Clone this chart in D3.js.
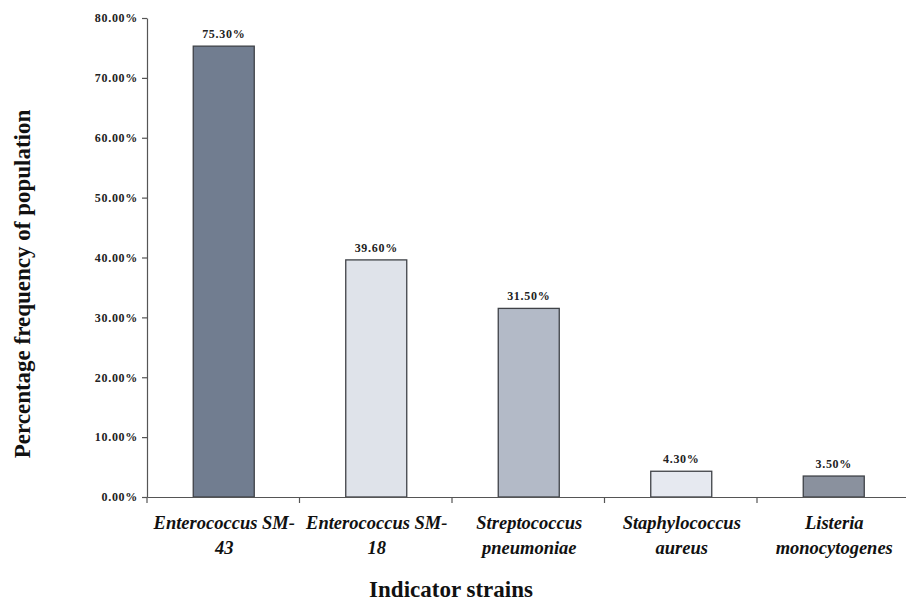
<!DOCTYPE html>
<html>
<head>
<meta charset="utf-8">
<script src="https://cdn.jsdelivr.net/npm/d3@7"></script>
<style>
  html, body { margin: 0; padding: 0; background: #ffffff; }
  svg { display: block; }
</style>
</head>
<body>
<svg id="chart" width="906" height="601"></svg>
<script>
// Data
const categories = ["Enterococcus SM-43", "Enterococcus SM-18", "Streptococcus pneumoniae", "Staphylococcus aureus", "Listeria monocytogenes"];
const categoryLines = [["Enterococcus SM-", "43"], ["Enterococcus SM-", "18"], ["Streptococcus", "pneumoniae"], ["Staphylococcus", "aureus"], ["Listeria", "monocytogenes"]];
const values = [75.3, 39.6, 31.5, 4.3, 3.5];
const valueLabels = ["75.30%", "39.60%", "31.50%", "4.30%", "3.50%"];
const yTicks = [0, 10, 20, 30, 40, 50, 60, 70, 80];
const barColors = ["#717d90", "#dfe3ea", "#b3bac7", "#e6e9f0", "#8a919e"];

const svg = d3.select("#chart");
const serif = "'Liberation Serif', 'Times New Roman', serif";

const x0 = 147, yTop = 18, yBottom = 497;
const band = 152.5;
const x = d3.scaleBand().domain(categories).range([x0, x0 + band * categories.length]).paddingInner(0).paddingOuter(0);
const y = d3.scaleLinear().domain([0, 80]).range([yBottom, yTop]);
const barW = 61;

// Bars
svg.selectAll("rect.bar").data(values).enter().append("rect")
  .attr("class", "bar")
  .attr("x", (d, i) => x(categories[i]) + x.bandwidth() / 2 - barW / 2 + 0.5)
  .attr("y", d => y(d))
  .attr("width", barW)
  .attr("height", d => y(0) - y(d))
  .attr("fill", (d, i) => barColors[i])
  .attr("stroke", "#3f4247")
  .attr("stroke-width", 1.3);

// Value labels
svg.selectAll("text.val").data(values).enter().append("text")
  .attr("class", "val")
  .attr("x", (d, i) => x(categories[i]) + x.bandwidth() / 2 + 0.5)
  .attr("y", d => y(d) - 8)
  .attr("text-anchor", "middle")
  .attr("font-family", serif)
  .attr("font-weight", "bold")
  .attr("font-size", 12)
  .attr("letter-spacing", 0.7)
  .attr("fill", "#222")
  .text((d, i) => valueLabels[i]);

// Y axis
const yAxis = d3.axisLeft(y).tickValues(yTicks).tickFormat(d => d.toFixed(2) + "%").tickSize(5).tickSizeOuter(0);
const gy = svg.append("g").attr("transform", `translate(${x0},0)`).call(yAxis);
gy.select(".domain").attr("stroke", "#555").attr("stroke-width", 1.2);
gy.selectAll(".tick line").attr("stroke", "#555").attr("stroke-width", 1.2);
gy.selectAll(".tick text")
  .attr("font-family", serif).attr("font-weight", "bold").attr("font-size", 12)
  .attr("letter-spacing", 0.7)
  .attr("fill", "#222").attr("x", -9);

// X axis
const xAxis = d3.axisBottom(x).tickSize(0).tickFormat("");
const gx = svg.append("g").attr("transform", `translate(0,${yBottom})`).call(xAxis);
gx.select(".domain").attr("stroke", "#555").attr("stroke-width", 1.2);
// Boundary ticks between categories
const boundaries = categories.map(c => x(c)).concat([x0 + band * categories.length]);
gx.selectAll("line.btick").data(boundaries).enter().append("line")
  .attr("class", "btick")
  .attr("x1", d => d).attr("x2", d => d)
  .attr("y1", 0).attr("y2", 6)
  .attr("stroke", "#555").attr("stroke-width", 1.2);

// Category labels
const catG = svg.append("g");
categoryLines.forEach((lines, i) => {
  const cx = x(categories[i]) + x.bandwidth() / 2 + 1;
  const t = catG.append("text")
    .attr("x", cx)
    .attr("y", 529)
    .attr("text-anchor", "middle")
    .attr("font-family", serif)
    .attr("font-weight", "bold")
    .attr("font-style", "italic")
    .attr("font-size", 18.5)
    .attr("fill", "#111");
  lines.forEach((ln, j) => {
    t.append("tspan").attr("x", cx).attr("dy", j === 0 ? 0 : 25).text(ln);
  });
});

// Axis titles
svg.append("text")
  .attr("x", 451).attr("y", 597)
  .attr("text-anchor", "middle")
  .attr("font-family", serif).attr("font-weight", "bold").attr("font-size", 23)
  .attr("fill", "#111")
  .text("Indicator strains");

svg.append("text")
  .attr("transform", "translate(30,284) rotate(-90)")
  .attr("text-anchor", "middle")
  .attr("font-family", serif).attr("font-weight", "bold").attr("font-size", 23)
  .attr("fill", "#111")
  .text("Percentage frequency of population");
</script>
</body>
</html>
